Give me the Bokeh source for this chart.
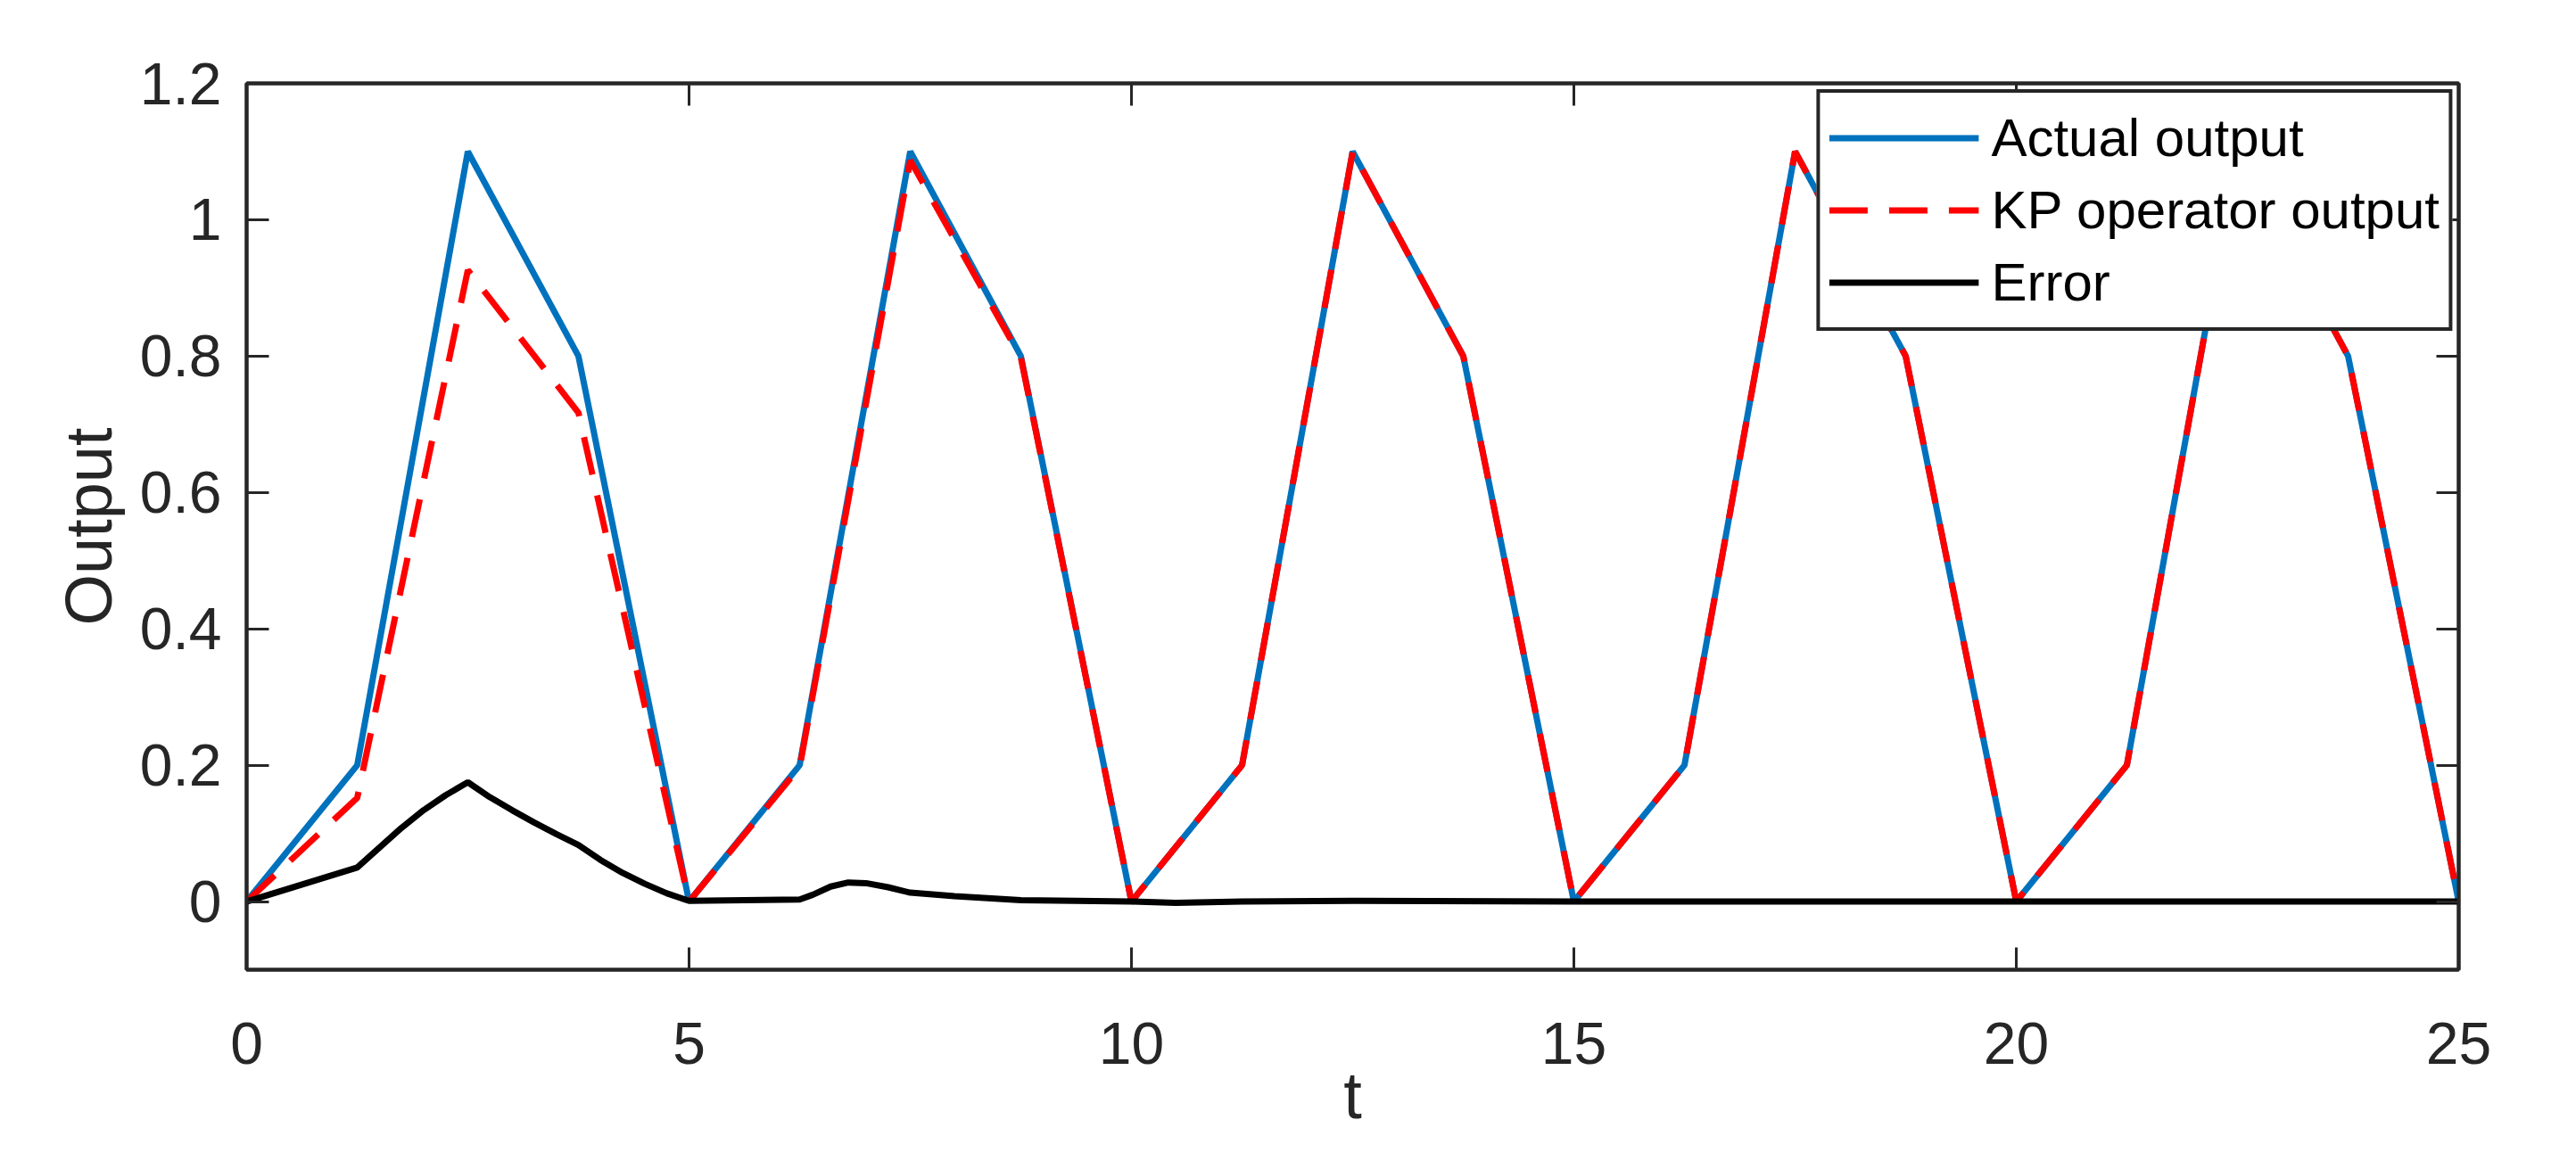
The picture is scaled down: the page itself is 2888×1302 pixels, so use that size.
from bokeh.plotting import figure
from bokeh.models import Range1d, FixedTicker, LinearAxis, CustomJSTickFormatter
from bokeh.embed import file_html
from bokeh.resources import INLINE

# ---- data ----
t_actual = [0, 1.25, 2.5, 3.75, 5, 6.25, 7.5, 8.75, 10, 11.25, 12.5, 13.75, 15,
            16.25, 17.5, 18.75, 20, 21.25, 22.5, 23.75, 25]
actual = [0, 0.2, 1.1, 0.8, 0, 0.2, 1.1, 0.8, 0, 0.2, 1.1, 0.8, 0,
          0.2, 1.1, 0.8, 0, 0.2, 1.1, 0.8, 0]

t_kp = [0, 1.25, 2.5, 3.75, 5, 6.25, 7.5, 8.75, 10, 11.25, 12.5, 13.75, 15,
        16.25, 17.5, 18.75, 20, 21.25, 22.5, 23.75, 25]
kp = [0, 0.152, 0.926, 0.717, 0, 0.197, 1.087, 0.798, 0, 0.2, 1.1, 0.8, 0,
      0.2, 1.1, 0.8, 0, 0.2, 1.1, 0.8, 0]

t_err = [0, 1.25, 1.5, 1.75, 2.0, 2.25, 2.5, 2.75, 3.0, 3.25, 3.5, 3.75, 4.0,
         4.25, 4.5, 4.75, 5.0, 6.25, 6.4, 6.6, 6.8, 7.0, 7.25, 7.5, 8.0, 8.5,
         8.75, 10, 10.5, 11.25, 12.5, 15, 20, 25]
err = [0, 0.050, 0.079, 0.108, 0.134, 0.156, 0.175, 0.153, 0.134, 0.116, 0.099,
       0.083, 0.061, 0.042, 0.026, 0.012, 0.001, 0.003, 0.010, 0.022, 0.028,
       0.027, 0.021, 0.013, 0.008, 0.004, 0.002, 0.0, -0.002, 0.0, 0.001, 0.0,
       0.0, 0.0]

x_ticks = [0, 5, 10, 15, 20, 25]
x_tick_labels = ["0", "5", "10", "15", "20", "25"]
y_ticks = [0, 0.2, 0.4, 0.6, 0.8, 1, 1.2]
y_tick_labels = ["0", "0.2", "0.4", "0.6", "0.8", "1", "1.2"]

series_names = ["Actual output", "KP operator output", "Error"]
x_label = "t"
y_label = "Output"

# ---- style ----
FONT = "Liberation Sans"
AX_COLOR = "#262626"
BLUE = "#0072BD"
RED = "#FF0000"
BLACK = "#000000"

p = figure(width=2872, height=1286,
           x_range=Range1d(0, 25), y_range=Range1d(-0.1, 1.2),
           output_backend="svg", toolbar_location=None,
           min_border_left=276, min_border_right=116,
           min_border_top=93, min_border_bottom=199)
p.background_fill_color = "white"
p.border_fill_color = "white"
p.outline_line_color = AX_COLOR
p.outline_line_width = 4
p.outline_line_alpha = 1
p.xgrid.visible = False
p.ygrid.visible = False

p.line(t_actual, actual, line_color=BLUE, line_width=7, legend_label=series_names[0])
p.line(t_kp, kp, line_color=RED, line_width=7, line_dash="43 24",
       legend_label=series_names[1])
p.line(t_err, err, line_color=BLACK, line_width=7, legend_label=series_names[2])


def style_axis(ax):
    ax.axis_line_color = AX_COLOR
    ax.axis_line_width = 4
    ax.major_tick_line_color = AX_COLOR
    ax.major_tick_line_width = 3
    ax.major_tick_in = 25
    ax.major_tick_out = 0
    ax.minor_tick_line_color = None
    ax.major_label_text_font = FONT
    ax.major_label_text_font_size = "66px"
    ax.major_label_text_color = AX_COLOR
    ax.axis_label_text_font = FONT
    ax.axis_label_text_font_size = "74px"
    ax.axis_label_text_font_style = "normal"
    ax.axis_label_text_color = AX_COLOR


xa = p.xaxis[0]
xa.ticker = FixedTicker(ticks=x_ticks)
xa.major_label_overrides = {v: s for v, s in zip(x_ticks, x_tick_labels)}
xa.axis_label = x_label
style_axis(xa)
xa.major_label_standoff = 59
xa.axis_label_standoff = -9

ya = p.yaxis[0]
ya.ticker = FixedTicker(ticks=y_ticks)
ya.major_label_overrides = {v: s for v, s in zip(y_ticks, y_tick_labels)}
ya.axis_label = y_label
style_axis(ya)
ya.major_label_standoff = 28
ya.axis_label_standoff = 13

blank = "return ''"
top = LinearAxis(ticker=FixedTicker(ticks=x_ticks),
                 formatter=CustomJSTickFormatter(code=blank))
style_axis(top)
top.major_label_text_font_size = "1px"
p.add_layout(top, "above")
right = LinearAxis(ticker=FixedTicker(ticks=y_ticks),
                   formatter=CustomJSTickFormatter(code=blank))
style_axis(right)
right.major_label_text_font_size = "1px"
p.add_layout(right, "right")

lg = p.legend[0]
lg.location = "top_right"
lg.margin = 7
lg.padding = 10
lg.spacing = 0
lg.border_line_color = AX_COLOR
lg.border_line_width = 4
lg.border_line_alpha = 1
lg.background_fill_color = "white"
lg.background_fill_alpha = 1
lg.label_text_font = FONT
lg.label_text_font_size = "60px"
lg.label_text_color = "black"
lg.glyph_width = 168
lg.glyph_height = 81
lg.label_height = 81
lg.label_standoff = 14

open("out.html", "w").write(file_html(p, INLINE))
